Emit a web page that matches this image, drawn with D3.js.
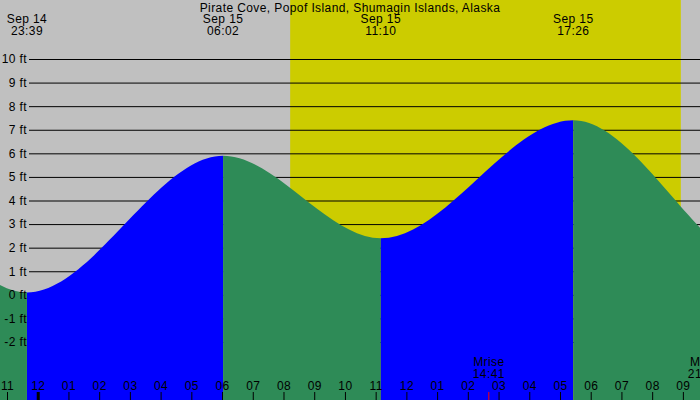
<!DOCTYPE html>
<html>
<head>
<meta charset="utf-8">
<script src="https://cdn.jsdelivr.net/npm/d3@7"></script>
<style>
  body { margin: 0; background: #fff; }
  text { font-family: "Liberation Sans", Arial, sans-serif; letter-spacing: 0.4px; }
</style>
</head>
<body>
<div id="chart"></div>
<script>
const WIDTH = 700;
const HEIGHT = 400;

const title = 'Pirate Cove, Popof Island, Shumagin Islands, Alaska';

// hours relative to Sep 15 00:00 (first and last are off the chart)
const extremeHours = [-13.2, -6.92, -0.35, 6.033, 11.167, 17.433, 23.83, 30.1];
const extremeFeet = [2.2, 6.6, 0.1, 5.9, 2.4, 7.4, 1.0, 6.0];
const extremeDay = ['Sep 14', 'Sep 14', 'Sep 14', 'Sep 15', 'Sep 15', 'Sep 15', 'Sep 15', 'Sep 16'];
const extremeClock = ['10:48', '17:05', '23:39', '06:02', '11:10', '17:26', '23:50', '06:06'];

const sunrise = 8.217;
const sunset = 20.933;

const moonHours = [14.683, 21.683];
const moonNames = ['Mrise', 'Mset'];
const moonClock = ['14:41', '21:41'];

const hourTicks = d3.range(-1, 22);
const hourLabels = ['11', '12', '01', '02', '03', '04', '05', '06', '07', '08', '09', '10',
    '11', '12', '01', '02', '03', '04', '05', '06', '07', '08', '09'];

const feetTicks = [-2, -1, 0, 1, 2, 3, 4, 5, 6, 7, 8, 9, 10];
const feetLabels = feetTicks.map(d => d + ' ft');

const x = d3.scaleLinear().domain([-1, 22]).range([7, 713.6]);
const y = d3.scaleLinear().domain([-2, 10]).range([342, 59]);

const svg = d3.select('#chart')
    .append('svg')
    .attr('width', WIDTH)
    .attr('height', HEIGHT)

// night / day background
svg.append('rect')
    .attr('width', WIDTH)
    .attr('height', HEIGHT)
    .attr('fill', '#c0c0c0')

svg.append('rect')
    .attr('x', x(sunrise))
    .attr('width', x(sunset) - x(sunrise))
    .attr('height', HEIGHT)
    .attr('fill', '#cccc00')

// grid lines under the water
svg.append('g')
    .attr('transform', 'translate(29,0)')
    .call(d3.axisRight(y).tickValues(feetTicks).tickSize(WIDTH - 29).tickFormat(''))
    .call(g => g.select('.domain').remove())
    .call(g => g.selectAll('line').attr('stroke', '#000'))

const tide = extremeHours.map((h, i) => ({ h: h, ft: extremeFeet[i] }));

const area = d3.area()
    .x(d => x(d.h))
    .y0(HEIGHT)
    .y1(d => y(d.ft))
    .curve(d3.curveMonotoneX)

const defs = svg.append('defs');
const segments = d3.pairs(tide).map((p, i) => ({ from: p[0], to: p[1], rising: p[1].ft > p[0].ft, i: i }));

defs.selectAll('clipPath')
    .data(segments)
    .enter()
    .append('clipPath')
    .attr('id', d => 'seg' + d.i)
    .append('rect')
    .attr('x', d => x(d.from.h))
    .attr('width', d => x(d.to.h) - x(d.from.h))
    .attr('height', HEIGHT)

svg.selectAll('path.tide')
    .data(segments)
    .enter()
    .append('path')
    .attr('class', 'tide')
    .attr('d', area(tide))
    .attr('clip-path', d => 'url(#seg' + d.i + ')')
    .attr('fill', d => d.rising ? '#0000ff' : '#2e8b57')

// feet labels
svg.append('g')
    .attr('transform', 'translate(29,0)')
    .call(d3.axisLeft(y).tickValues(feetTicks).tickSize(0).tickPadding(2)
        .tickFormat((d, i) => feetLabels[i]))
    .call(g => g.select('.domain').remove())
    .call(g => g.selectAll('text').attr('font-size', 12).attr('fill', '#000')
        .attr('font-family', '"Liberation Sans", Arial, sans-serif'))

// hour axis
svg.append('g')
    .attr('transform', 'translate(0,' + HEIGHT + ')')
    .call(d3.axisTop(x).tickValues(hourTicks).tickSize(8).tickPadding(2)
        .tickFormat((d, i) => hourLabels[i]))
    .call(g => g.select('.domain').remove())
    .call(g => g.selectAll('line').attr('stroke', '#000').attr('stroke-width', d => d === 0 ? 3 : 1))
    .call(g => g.selectAll('text').attr('font-size', 12).attr('fill', '#000')
        .attr('font-family', '"Liberation Sans", Arial, sans-serif'))

// moon
svg.selectAll('line.moon')
    .data(moonHours)
    .enter()
    .append('line')
    .attr('class', 'moon')
    .attr('x1', d => x(d))
    .attr('x2', d => x(d))
    .attr('y1', HEIGHT - 8)
    .attr('y2', HEIGHT)
    .attr('stroke', '#ff0000')

svg.selectAll('text.moonname')
    .data(moonHours)
    .enter()
    .append('text')
    .text((d, i) => moonNames[i])
    .attr('x', d => x(d))
    .attr('y', 366)
    .attr('font-size', 12)
    .attr('text-anchor', 'middle')

svg.selectAll('text.moontime')
    .data(moonHours)
    .enter()
    .append('text')
    .text((d, i) => moonClock[i])
    .attr('x', d => x(d))
    .attr('y', 378)
    .attr('font-size', 12)
    .attr('text-anchor', 'middle')

// title and tide times
svg.append('text')
    .text(title)
    .attr('x', WIDTH / 2)
    .attr('y', 12)
    .attr('font-size', 12)
    .attr('text-anchor', 'middle')

const shown = tide.map((d, i) => ({ h: d.h, day: extremeDay[i], clock: extremeClock[i] }))
    .filter(d => x(d.h) >= 0 && x(d.h) <= WIDTH);

svg.selectAll('text.day')
    .data(shown)
    .enter()
    .append('text')
    .text(d => d.day)
    .attr('x', d => x(d.h))
    .attr('y', 23)
    .attr('font-size', 12)
    .attr('text-anchor', 'middle')

svg.selectAll('text.clock')
    .data(shown)
    .enter()
    .append('text')
    .text(d => d.clock)
    .attr('x', d => x(d.h))
    .attr('y', 35)
    .attr('font-size', 12)
    .attr('text-anchor', 'middle')
</script>
</body>
</html>
